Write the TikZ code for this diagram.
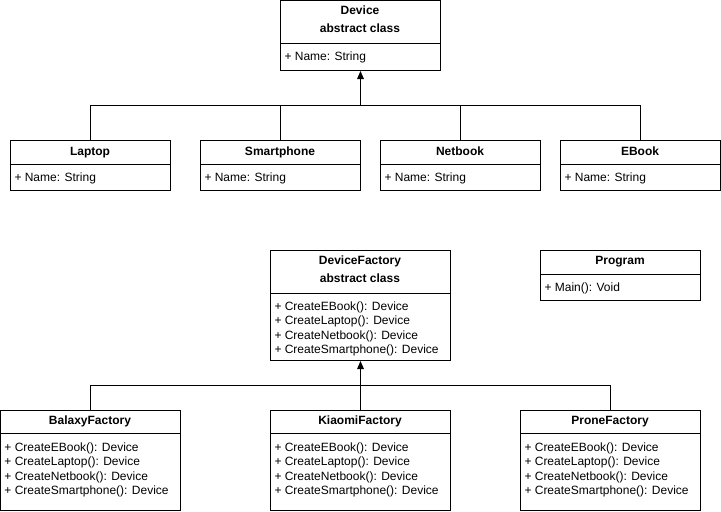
\documentclass[tikz,border=0pt]{standalone}
\usepackage{fontspec}
\setmainfont{Liberation Sans}
\usetikzlibrary{arrows.meta}
\begin{document}
\begin{tikzpicture}[x=0.75pt,y=-0.75pt,
  line width=0.75pt,
  classbox/.style={draw=black, fill=white, rectangle, anchor=north west, inner sep=0pt},
  title/.style={font=\fontsize{9pt}{11pt}\selectfont\bfseries, inner sep=0pt,
    text height=6.6pt, text depth=1.9pt, anchor=center},
  member/.style={font=\fontsize{9pt}{11pt}\selectfont, inner sep=0pt,
    text height=6.6pt, text depth=1.9pt, anchor=west},
  inherit/.style={-{Triangle[length=6pt,width=5pt]}}]
\useasboundingbox[fill=white] (0,0) rectangle (721,511);

% ---------- Device hierarchy ----------
\node[classbox, minimum width=120pt, minimum height=52.5pt] (device) at (280,0) {};
\draw (280,43) -- (440,43);
\node[title] (deviceT1) at (360,11) {Device};
\node[title] (deviceT2) at (360,29) {abstract class};
\node[member] (deviceM) at (284,57) {+ Name: String};

\node[classbox, minimum width=120pt, minimum height=37.5pt] (laptop) at (10,140) {};
\draw (10,164) -- (170,164);
\node[title] (laptopT) at (90,152) {Laptop};
\node[member] (laptopM) at (14,178) {+ Name: String};

\node[classbox, minimum width=120pt, minimum height=37.5pt] (smartphone) at (200,140) {};
\draw (200,164) -- (360,164);
\node[title] (smartphoneT) at (280,152) {Smartphone};
\node[member] (smartphoneM) at (204,178) {+ Name: String};

\node[classbox, minimum width=120pt, minimum height=37.5pt] (netbook) at (380,140) {};
\draw (380,164) -- (540,164);
\node[title] (netbookT) at (460,152) {Netbook};
\node[member] (netbookM) at (384,178) {+ Name: String};

\node[classbox, minimum width=120pt, minimum height=37.5pt] (ebook) at (560,140) {};
\draw (560,164) -- (720,164);
\node[title] (ebookT) at (640,152) {EBook};
\node[member] (ebookM) at (564,178) {+ Name: String};

% inheritance bus joining the four devices
\coordinate (busA) at (360,105);
\draw (laptop.north) |- (ebook.north |- busA) -- (ebook.north);
\draw (smartphone.north) -- (smartphone.north |- busA);
\draw (netbook.north) -- (netbook.north |- busA);
\draw[inherit] (device.south |- busA) -- (device.south);

% ---------- Factory hierarchy ----------
\node[classbox, minimum width=135pt, minimum height=82.5pt] (factory) at (270,250) {};
\draw (270,293) -- (450,293);
\node[title] (factoryT1) at (360,261) {DeviceFactory};
\node[title] (factoryT2) at (360,279) {abstract class};
\node[member] (factoryM1) at (274,307) {+ CreateEBook(): Device};
\node[member] (factoryM2) at (274,321.5) {+ CreateLaptop(): Device};
\node[member] (factoryM3) at (274,336) {+ CreateNetbook(): Device};
\node[member] (factoryM4) at (274,350.5) {+ CreateSmartphone(): Device};

\node[classbox, minimum width=120pt, minimum height=37.5pt] (program) at (540,250) {};
\draw (540,274) -- (700,274);
\node[title] (programT) at (620,261) {Program};
\node[member] (programM) at (544,288) {+ Main(): Void};

\node[classbox, minimum width=135pt, minimum height=75pt] (balaxy) at (0,410) {};
\draw (0,433) -- (180,433);
\node[title] (balaxyT) at (90,421) {BalaxyFactory};
\node[member] (balaxyM1) at (4,448) {+ CreateEBook(): Device};
\node[member] (balaxyM2) at (4,462.5) {+ CreateLaptop(): Device};
\node[member] (balaxyM3) at (4,477) {+ CreateNetbook(): Device};
\node[member] (balaxyM4) at (4,491.5) {+ CreateSmartphone(): Device};

\node[classbox, minimum width=135pt, minimum height=75pt] (kiaomi) at (270,410) {};
\draw (270,433) -- (450,433);
\node[title] (kiaomiT) at (360,421) {KiaomiFactory};
\node[member] (kiaomiM1) at (274,448) {+ CreateEBook(): Device};
\node[member] (kiaomiM2) at (274,462.5) {+ CreateLaptop(): Device};
\node[member] (kiaomiM3) at (274,477) {+ CreateNetbook(): Device};
\node[member] (kiaomiM4) at (274,491.5) {+ CreateSmartphone(): Device};

\node[classbox, minimum width=135pt, minimum height=75pt] (prone) at (520,410) {};
\draw (520,433) -- (700,433);
\node[title] (proneT) at (610,421) {ProneFactory};
\node[member] (proneM1) at (524,448) {+ CreateEBook(): Device};
\node[member] (proneM2) at (524,462.5) {+ CreateLaptop(): Device};
\node[member] (proneM3) at (524,477) {+ CreateNetbook(): Device};
\node[member] (proneM4) at (524,491.5) {+ CreateSmartphone(): Device};

% inheritance bus joining the three factories
\coordinate (busB) at (360,385);
\draw (balaxy.north) |- (prone.north |- busB) -- (prone.north);
\draw[inherit] (kiaomi.north) -- (factory.south);
\end{tikzpicture}
\end{document}
